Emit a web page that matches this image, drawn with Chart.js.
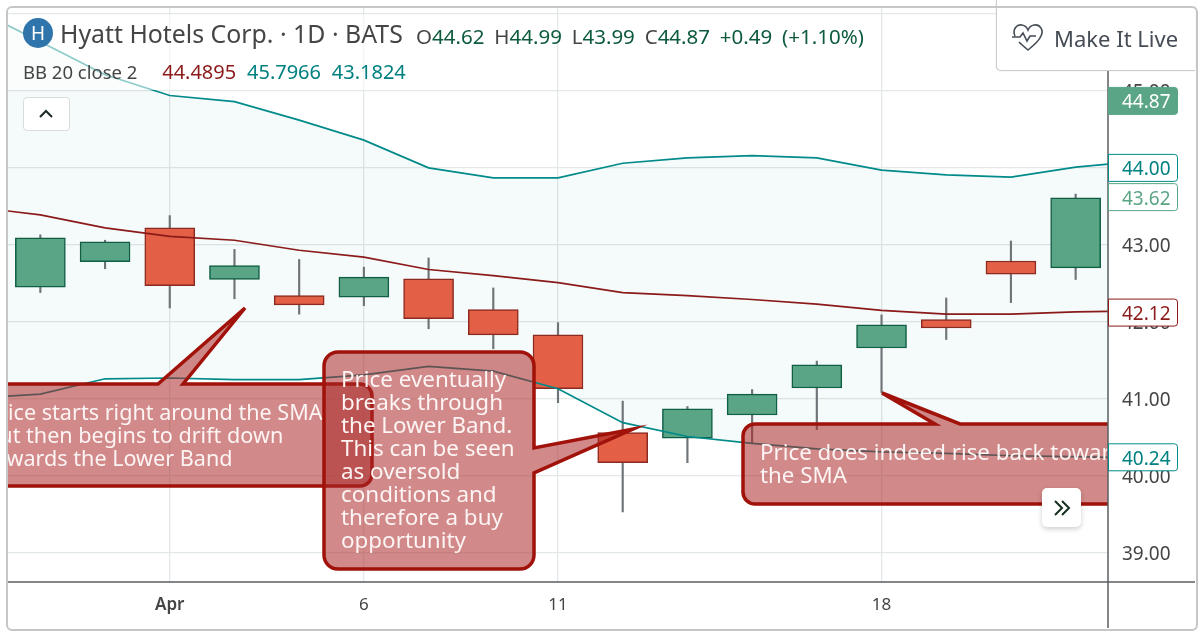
<!DOCTYPE html>
<html>
<head>
<meta charset="utf-8">
<script src="https://cdn.jsdelivr.net/npm/chart.js@4/dist/chart.umd.js"></script>
<style>
html,body{margin:0;background:#fff;font-family:"Noto Sans",sans-serif}
#wrap{position:relative;width:1200px;height:633px;overflow:hidden}
canvas{position:absolute;left:0;top:0}
#frame{position:absolute;left:6px;top:6px;width:1188px;height:621px;border:2px solid #c4c6c8;border-radius:6px;pointer-events:none}
#wash{position:absolute;left:8px;top:15px;width:404px;height:75px;background:rgba(255,255,255,.55)}
.t{position:absolute;white-space:nowrap;color:#454545}
#logo{position:absolute;left:23px;top:18px;width:30px;height:30px;border-radius:50%;background:#2f74aa;color:#fff;font-size:19px;line-height:30px;text-align:center}
#title{left:60px;top:15px;font-size:24.850px;line-height:36px}
#ohlc{left:416px;top:21px;font-size:20.500px;line-height:30px;color:#0d5a3c;word-spacing:4.500px}
#ohlc i{font-style:normal;color:#454545}
#bb{left:23px;top:58px;font-size:18.500px;line-height:28px}
#bb b{font-weight:400;font-size:20px;margin-left:6px}
#bb b:first-child{margin-left:20px}
#fold{position:absolute;left:23px;top:97px;width:45px;height:32px;border:1px solid #d8dcdc;border-radius:4px;background:#fff}
#live{position:absolute;left:996px;top:0;width:198px;height:70px;background:#fff;border:1px solid #ccc;border-right:0;border-top:0;border-bottom-left-radius:5px;box-shadow:0 0 1px #bbb}
#live span{position:absolute;left:57px;top:22px;font-size:22px;line-height:32px;color:#454c55;white-space:nowrap}
#live svg{position:absolute;left:14px;top:22px}
#more{position:absolute;left:1042px;top:488px;width:39px;height:39px;background:#fff;border-radius:5px;box-shadow:0 2px 5px rgba(0,0,0,.2)}
</style>
</head>
<body>
<div id="wrap">
<canvas id="c" width="1200" height="633"></canvas>
<div id="wash"></div>
<div id="logo">H</div>
<div class="t" id="title">Hyatt Hotels Corp. · 1D · BATS</div>
<div class="t" id="ohlc"><i>O</i>44.62 <i>H</i>44.99 <i>L</i>43.99 <i>C</i>44.87 +0.49 (+1.10%)</div>
<div class="t" id="bb">BB 20 close 2 <b style="color:#8b1a1a">44.4895</b> <b style="color:#008080">45.7966</b> <b style="color:#008080">43.1824</b></div>
<div id="fold"><svg width="45" height="32"><path d="M16 19l6-6 6 6" fill="none" stroke="#1b2a22" stroke-width="2"/></svg></div>
<div id="live">
<svg width="34" height="32" viewBox="0 0 34 32"><path d="M4 14C1 7 6 2 11 3c3 .5 5 2.500 6 5 1-2.500 3-4.500 6-5 6-1 10 5 7 11-2 5-8 10-13 14-3-2.500-6-5-9-8M1 15h8l3-4 4 8 3-5h6" fill="none" stroke="#454c55" stroke-width="1.600"/></svg>
<span>Make It Live</span>
</div>
<div id="more"><svg width="39" height="39"><path d="M13 13l7 7-7 7M20 13l7 7-7 7" fill="none" stroke="#14301f" stroke-width="2"/></svg></div>
<div id="frame"></div>
</div>
<script>
'use strict';
const FONT='"Noto Sans",sans-serif';

// sessions, in order; only some of them carry an axis label
const sessions=['Mar 30','Mar 31','Apr','Apr 4','Apr 5','6','Apr 7','Apr 8','11','Apr 12','Apr 13','Apr 14','Apr 15','18','Apr 19','Apr 20','Apr 21'];
const labelled=[2,5,8,13];
const yTicks=[39,40,41,42,43,44,45,46];

const opens =[42.45,42.78,43.22,42.55,42.34,42.32,42.56,42.16,41.83,40.56,40.49,40.79,41.14,41.66,42.03,42.79,42.70];
const highs =[43.13,43.06,43.38,42.94,42.81,42.71,42.83,42.44,41.99,40.97,40.90,41.12,41.49,42.09,42.31,43.05,43.66];
const lows  =[42.38,42.69,42.18,42.30,42.10,42.21,41.91,41.65,40.95,39.53,40.17,40.43,40.60,41.08,41.77,42.25,42.55];
const closes=[43.09,43.04,42.47,42.73,42.22,42.58,42.04,41.83,41.13,40.17,40.87,41.06,41.44,41.96,41.92,42.62,43.61];

// bollinger bands; one extra value either side of the sessions so the lines run off the pane
const upperBand=[46.06,45.64,45.21,44.94,44.86,44.62,44.36,44.00,43.87,43.87,44.06,44.13,44.16,44.13,43.97,43.91,43.88,44.01,44.09];
const midBand  =[43.49,43.39,43.22,43.11,43.06,42.93,42.84,42.68,42.60,42.51,42.38,42.34,42.29,42.23,42.15,42.10,42.10,42.13,42.14];
const lowerBand=[41.01,41.06,41.26,41.27,41.25,41.25,41.31,41.42,41.36,41.13,40.69,40.51,40.42,40.35,40.31,40.29,40.26,40.25,40.23];

const GREEN='#5aa585', GREEN_D='#0f5f44', RED='#e35f45', RED_D='#8a2a20';
const TEAL='#008a8a', MAROON='#8b1a1a';

// price tags on the right axis: value, text colour, border, fill
const tags=[
  [44.87,'#fff',GREEN,GREEN],
  [44.00,'#008080',TEAL,'#fff'],
  [43.62,GREEN,GREEN,'#fff'],
  [42.12,MAROON,MAROON,'#fff'],
  [40.24,'#008080',TEAL,'#fff']
];

const notes=[
  {box:[-140,384,372,486],r:12,tail:[[183,384],[245,308],[158,384]],x:-14,y:413.5,size:21.6,
   lines:['Price starts right around the SMA','but then begins to drift down','towards the Lower Band']},
  {box:[324,352,534,569],r:14,tail:[[534,473],[633,429],[534,448]],x:341,y:380.5,size:22.4,
   lines:['Price eventually','breaks through','the Lower Band.','This can be seen','as oversold','conditions and','therefore a buy','opportunity']},
  {box:[743,424,1300,504],r:12,tail:[[960,424],[882,393],[935,424]],x:760,y:453.5,size:22.3,
   lines:['Price does indeed rise back towards','the SMA']}
];

const series=a=>a.map((y,i)=>({x:i-1,y}));
const lineSet=(data,color,extra)=>Object.assign({type:'line',data:series(data),borderColor:color,borderWidth:1.7,pointRadius:0,tension:0,fill:false,order:1},extra);
const bodies=(up)=>sessions.map((s,i)=>({x:i,y:[opens[i],closes[i]],up:closes[i]>=opens[i]})).filter(b=>b.up===up);
const noMargins=s=>{s.paddingTop=s.paddingBottom=s.paddingLeft=s.paddingRight=0;};

function noteCallout(ctx,n){
  const [l,t,r,b]=n.box, q=n.r;
  ctx.beginPath();
  ctx.moveTo(l+q,t);
  if(n.tail[0][1]===t && n.tail[2][1]===t){
    // tail on the top edge
    ctx.lineTo(n.tail[2][0],t);ctx.lineTo(n.tail[1][0],n.tail[1][1]);ctx.lineTo(n.tail[0][0],t);
  }
  ctx.arcTo(r,t,r,b,q);
  if(n.tail[0][0]===r){
    // tail on the right edge
    ctx.lineTo(r,n.tail[2][1]);ctx.lineTo(n.tail[1][0],n.tail[1][1]);ctx.lineTo(r,n.tail[0][1]);
  }
  ctx.arcTo(r,b,l,b,q);ctx.arcTo(l,b,l,t,q);ctx.arcTo(l,t,r,t,q);
  ctx.closePath();
  ctx.fillStyle='rgba(172,40,40,.55)';
  ctx.fill();
  ctx.lineWidth=3.5;
  ctx.lineJoin='miter';
  ctx.strokeStyle='#a0120a';
  ctx.stroke();
  ctx.fillStyle='#fdf4f4';
  ctx.font=n.size+'px '+FONT;
  ctx.textAlign='left';
  ctx.textBaseline='middle';
  n.lines.forEach((s,i)=>ctx.fillText(s,n.x,n.y+i*23));
}

const overlay={
  id:'overlay',
  // price labels sit a touch low on the reference
  afterLayout(chart){
    chart.scales.y.getLabelItems().forEach(it=>{it.options.translation[1]+=2;});
  },
  afterDraw(chart){
    const ctx=chart.ctx, a=chart.chartArea, y=chart.scales.y;
    ctx.save();
    ctx.beginPath();ctx.rect(a.left,a.top,a.right-a.left,a.bottom-a.top);ctx.clip();
    notes.forEach(n=>noteCallout(ctx,n));
    ctx.restore();

    // pane separators reach the frame
    ctx.save();
    ctx.strokeStyle='#5a5f63';ctx.lineWidth=1.5;
    ctx.beginPath();
    ctx.moveTo(a.right,a.top);ctx.lineTo(a.right,628);
    ctx.moveTo(a.left,a.bottom);ctx.lineTo(1195,a.bottom);
    ctx.stroke();

    tags.forEach(([v,txt,bd,bg])=>{
      const py=y.getPixelForValue(v);
      ctx.beginPath();
      ctx.roundRect(a.right+.5,py-13.500,69,27,[0,3,3,0]);
      ctx.fillStyle=bg;ctx.fill();
      ctx.lineWidth=1;ctx.strokeStyle=bd;ctx.stroke();
      ctx.fillStyle=txt;
      ctx.font='19px '+FONT;
      ctx.textAlign='left';ctx.textBaseline='middle';
      ctx.fillText(v.toFixed(2),a.right+14,py+2);
    });
    ctx.restore();
  }
};

new Chart(document.getElementById('c').getContext('2d'),{
  type:'bar',
  plugins:[overlay],
  data:{
    datasets:[
      lineSet(upperBand,TEAL,{fill:{target:2},backgroundColor:'rgba(0,128,128,.04)'}),
      lineSet(midBand,MAROON),
      lineSet(lowerBand,TEAL),
      {data:sessions.map((s,i)=>({x:i,y:[lows[i],highs[i]]})),backgroundColor:'#6f7478',barThickness:1.5,order:3},
      {data:bodies(true),backgroundColor:GREEN,borderColor:GREEN_D,borderWidth:1.5,borderSkipped:false,barThickness:50,order:2},
      {data:bodies(false),backgroundColor:RED,borderColor:RED_D,borderWidth:1.5,borderSkipped:false,barThickness:50,order:2}
    ]
  },
  options:{
    responsive:false,
    animation:false,
    layout:{padding:{left:8,top:7,right:0,bottom:0}},
    datasets:{bar:{grouped:false}},
    plugins:{legend:{display:false},tooltip:{enabled:false},filler:{drawTime:'beforeDatasetsDraw'}},
    scales:{
      x:{
        type:'linear',min:-0.5,max:16.5,offset:false,
        afterBuildTicks(s){s.ticks=labelled.map(value=>({value}));},
        afterFit(s){s.height=51;noMargins(s);},
        grid:{color:'#e3e8e8',lineWidth:1.3,drawTicks:false,offset:false},
        border:{display:false},
        ticks:{
          autoSkip:false,maxRotation:0,padding:13,color:'#454545',
          font:c=>({family:FONT,size:17,weight:c.tick&&c.tick.value===2?'600':'400'}),
          callback:v=>sessions[v]
        }
      },
      y:{
        position:'right',min:38.62,max:46.09,
        afterBuildTicks(s){s.ticks=yTicks.map(value=>({value}));},
        afterFit(s){s.width=92;noMargins(s);},
        grid:{color:'#e3e8e8',lineWidth:1.3,drawTicks:false},
        border:{display:false},
        ticks:{padding:14,color:'#454545',font:{family:FONT,size:19},callback:v=>v.toFixed(2)}
      }
    }
  }
});
</script>
</body>
</html>
